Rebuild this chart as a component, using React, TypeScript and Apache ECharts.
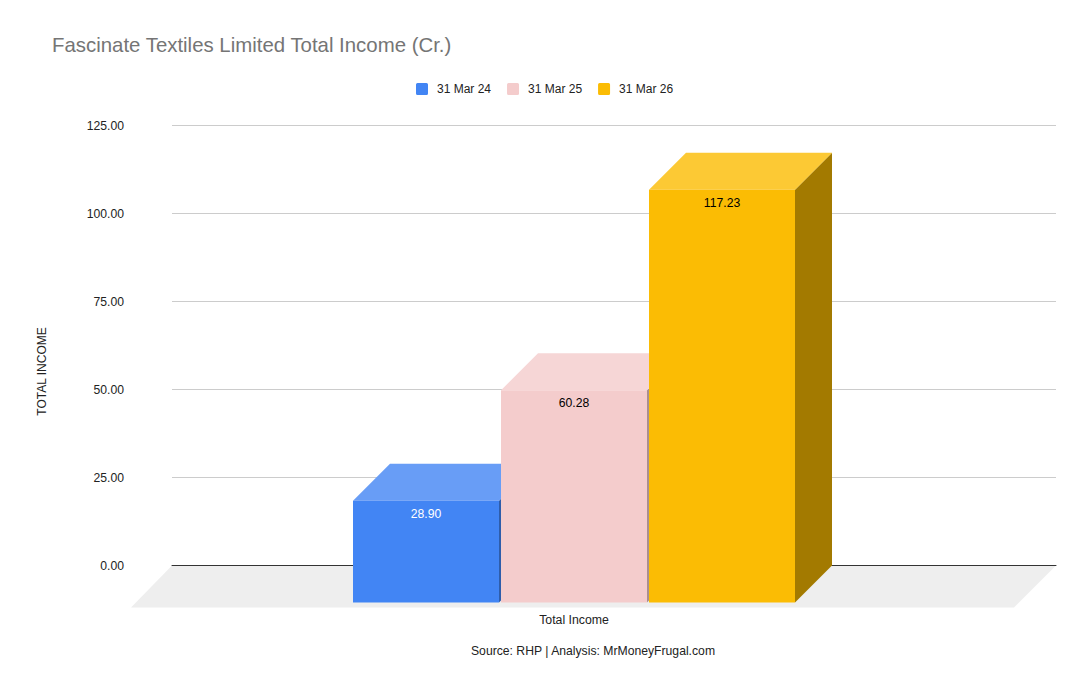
import React, { useEffect, useRef } from "react";
import * as echarts from "echarts";

const title = "Fascinate Textiles Limited Total Income (Cr.)";
const categories = ["Total Income"];
const seriesNames = ["31 Mar 24", "31 Mar 25", "31 Mar 26"];
const values = [28.9, 60.28, 117.23];
const labelColors = ["#ffffff", "#000000", "#000000"];
const frontColors = ["#4285f4", "#f4cccc", "#fbbc04"];
const topColors = ["#689df6", "#f6d6d6", "#fcc934"];
const sideColors = ["#2e5dab", "#ab8f8f", "#a37a00"];
const yTicks = [0, 25, 50, 75, 100, 125];
const source = "Source: RHP | Analysis: MrMoneyFrugal.com";

const DEPTH = 37;
const BAR_W = 146;
const BAR_STEP = 148;
const FIRST_OFFSET = -261;
const FONT = "'Liberation Sans', Arial, sans-serif";
const ICON =
  "path://M1.5 0H10.5A1.5 1.5 0 0 1 12 1.5V10.5A1.5 1.5 0 0 1 10.5 12H1.5A1.5 1.5 0 0 1 0 10.5V1.5A1.5 1.5 0 0 1 1.5 0Z";

function barSeries(i: number) {
  return {
    type: "custom",
    name: seriesNames[i],
    z: 3 + i,
    itemStyle: { color: frontColors[i] },
    encode: { x: 0, y: 1 },
    data: [[categories[0], values[i]]],
    renderItem: (_p: any, api: any) => {
      const backTop = api.coord([api.value(0), api.value(1)]);
      const base = api.coord([api.value(0), 0]);
      const x0 = backTop[0] + FIRST_OFFSET + i * BAR_STEP;
      const x1 = x0 + BAR_W;
      const frontTop = backTop[1] + DEPTH;
      const frontBase = base[1] + DEPTH;
      const poly = (points: number[][], fill: string) => ({
        type: "polygon",
        shape: { points },
        style: { fill },
      });
      return {
        type: "group",
        children: [
          poly(
            [[x1, frontTop], [x1 + DEPTH, backTop[1]], [x1 + DEPTH, base[1]], [x1, frontBase]],
            sideColors[i],
          ),
          poly(
            [[x0, frontTop], [x0 + DEPTH, backTop[1]], [x1 + DEPTH, backTop[1]], [x1, frontTop]],
            topColors[i],
          ),
          poly([[x0, frontTop], [x1, frontTop], [x1, frontBase], [x0, frontBase]], frontColors[i]),
          {
            type: "text",
            x: x0 + BAR_W / 2,
            y: frontTop + 13,
            style: {
              text: values[i].toFixed(2),
              fill: labelColors[i],
              font: `12.2px ${FONT}`,
              align: "center",
              verticalAlign: "middle",
            },
          },
        ],
      };
    },
  };
}

const floorSeries = {
  type: "custom",
  name: "floor",
  silent: true,
  z: 1,
  data: [[categories[0], 0]],
  encode: { x: 0, y: 1 },
  renderItem: (params: any) => {
    const { x, y, width, height } = params.coordSys;
    const bottom = y + height;
    return {
      type: "polygon",
      shape: {
        points: [
          [x, bottom],
          [x + width, bottom],
          [x + width - 42, bottom + 42],
          [x - 41, bottom + 42],
        ],
      },
      style: { fill: "#eeeeee" },
    };
  },
};

export default function App() {
  const ref = useRef<HTMLDivElement>(null);
  useEffect(() => {
    const chart = echarts.init(ref.current!, undefined, { renderer: "svg" });
    chart.setOption({
      animation: false,
      backgroundColor: "#ffffff",
      textStyle: { fontFamily: FONT },
      title: {
        text: title,
        left: 47,
        top: 30,
        textStyle: { fontSize: 20.4, fontWeight: "normal", color: "#757575", fontFamily: FONT },
      },
      legend: {
        data: seriesNames,
        top: 78,
        left: 411,
        icon: ICON,
        itemWidth: 12,
        itemHeight: 12,
        itemGap: 16,
        textStyle: { fontSize: 12, color: "#222222", fontFamily: FONT, padding: [0, 0, 0, 4] },
      },
      grid: { left: 172, right: 34, top: 125.5, height: 440 },
      xAxis: {
        type: "category",
        data: categories,
        z: 2,
        axisLine: { show: true, onZero: true, lineStyle: { color: "#333333", width: 1 } },
        axisTick: { show: false },
        axisLabel: {
          color: "#222222",
          fontSize: 12.3,
          fontFamily: FONT,
          margin: 48,
          padding: [0, 80, 0, 0],
        },
      },
      yAxis: {
        type: "value",
        min: yTicks[0],
        max: yTicks[yTicks.length - 1],
        interval: 25,
        name: "TOTAL INCOME",
        nameLocation: "middle",
        nameGap: 124,
        nameTextStyle: {
          color: "#222222",
          fontSize: 12,
          fontFamily: FONT,
          padding: [0, 52, 0, 0],
        },
        axisLine: { show: false },
        axisTick: { show: false },
        splitLine: { lineStyle: { color: "#cccccc", width: 1 } },
        axisLabel: {
          color: "#222222",
          fontSize: 12.2,
          fontFamily: FONT,
          margin: 48,
          padding: [0, 0, 1, 0],
          formatter: (v: number) => v.toFixed(2),
        },
      },
      graphic: [
        {
          type: "text",
          x: 593,
          y: 651,
          style: {
            text: source,
            fill: "#222222",
            font: `12.2px ${FONT}`,
            align: "center",
            verticalAlign: "middle",
          },
        },
      ],
      series: [floorSeries, barSeries(0), barSeries(1), barSeries(2)],
    });
    return () => chart.dispose();
  }, []);
  return (
    <div
      ref={ref}
      style={{ position: "fixed", left: 0, top: 0, width: 1090, height: 694 }}
    />
  );
}
